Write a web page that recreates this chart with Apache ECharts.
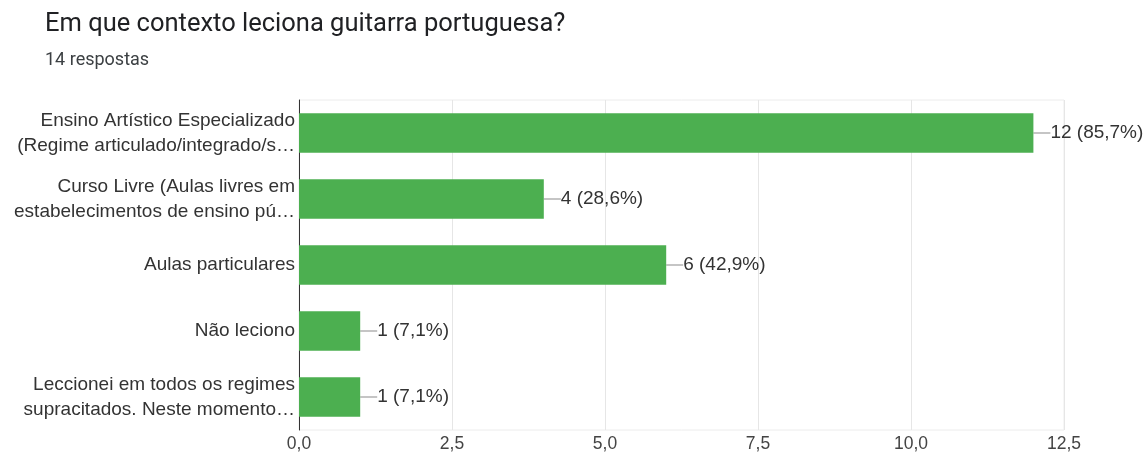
<!DOCTYPE html>
<html>
<head>
<meta charset="utf-8">
<script src="https://cdn.jsdelivr.net/npm/echarts@6/dist/echarts.min.js"></script>
<style>
  html, body { margin: 0; padding: 0; background: #fff; }
  #chart { width: 1145px; height: 458px; }
</style>
</head>
<body>
<div id="chart"></div>
<script>
// categorias (texto tal como aparece, com reticencias)
var categories = [
  'Ensino Artístico Especializado\n(Regime articulado/integrado/s…',
  'Curso Livre (Aulas livres em\nestabelecimentos de ensino pú…',
  'Aulas particulares',
  'Não leciono',
  'Leccionei em todos os regimes\nsupracitados. Neste momento…'
];
var counts = [12, 4, 6, 1, 1];
var percents = ['85,7%', '28,6%', '42,9%', '7,1%', '7,1%'];

var labelFont = 'Liberation Sans';

var chart = echarts.init(document.getElementById('chart'));

var option = {
  animation: false,
  title: [
    {
      text: 'Em que contexto leciona guitarra portuguesa?',
      left: 40, top: 7,
      textStyle: { fontFamily: 'Roboto', fontSize: 25.5, fontWeight: 'normal', color: '#202124' }
    },
    {
      text: '14 respostas',
      left: 40, top: 46,
      textStyle: { fontFamily: 'Roboto', fontSize: 18, fontWeight: 'normal', color: '#3c4043' }
    }
  ],
  grid: {
    left: 299, right: 81, top: 100, bottom: 28,
    show: true, borderColor: '#ececec', borderWidth: 1
  },
  xAxis: {
    type: 'value',
    min: 0, max: 12.5, interval: 2.5,
    axisLine: { show: false },
    axisTick: { show: false },
    splitLine: { lineStyle: { color: '#e6e6e6' } },
    axisLabel: {
      margin: 5,
      fontFamily: labelFont, fontSize: 17.5, color: '#444',
      formatter: function (v) { return v.toFixed(1).replace('.', ','); }
    }
  },
  yAxis: {
    type: 'category',
    inverse: true,
    data: categories,
    axisLine: { lineStyle: { color: '#333', width: 1 } },
    axisTick: { show: false },
    axisLabel: {
      margin: 4,
      align: 'right',
      lineHeight: 25,
      fontFamily: labelFont, fontSize: 19, color: '#333'
    }
  },
  series: [{
    type: 'bar',
    data: counts,
    barWidth: '60%',
    itemStyle: { color: '#4caf50' },
    label: {
      show: true,
      position: 'right',
      distance: 0,
      fontFamily: labelFont, fontSize: 19, color: '#333',
      formatter: function (p) { return p.value + ' (' + percents[p.dataIndex] + ')'; }
    },
    labelLayout: { dx: 17 },
    labelLine: { show: true, lineStyle: { color: '#9e9e9e', width: 1.2 } }
  }]
};

chart.setOption(option);
</script>
</body>
</html>
